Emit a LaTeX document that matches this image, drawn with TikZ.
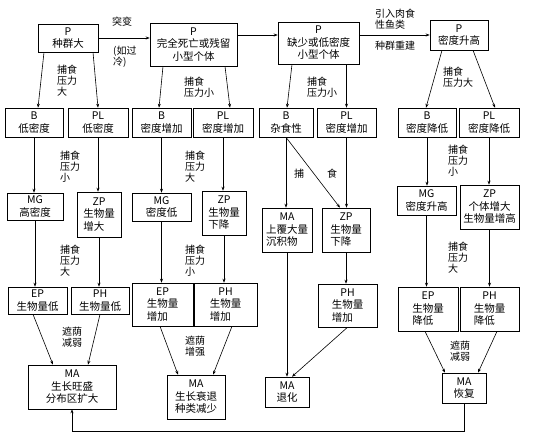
\documentclass[tikz,border=0pt]{standalone}
\usepackage{fontspec}
\newfontfamily\cjk{Noto Sans CJK SC}
\usetikzlibrary{arrows.meta,calc}
\newcommand{\lline}[2][3]{\makebox[#1em][l]{#2}}

\begin{document}
\begin{tikzpicture}[
  x=1pt, y=-1pt,
  font=\cjk\fontsize{10.5}{12.5}\selectfont,
  box/.style={draw, line width=.6pt, align=center, inner sep=1pt},
  size/.style 2 args={minimum width=#1pt, minimum height=#2pt},
  tag/.style={anchor=west, align=left, inner sep=0pt,
    font=\cjk\fontsize{10}{11}\selectfont},
  flow/.style={draw, line width=.6pt, -{Stealth[length=4pt,width=3pt]}}
]
\useasboundingbox (0,0) rectangle (534,438);

% Population states across the top
\node[box, size={60}{28}] (p1) at (68,38) {P\\种群大};
\node[box, size={87}{43}] (p2) at (193.5,44.5) {P\\完全死亡或残留\\小型个体};
\node[box, size={81}{42}] (p3) at (318.5,43) {P\\缺少或低密度\\小型个体};
\node[box, size={58}{30}] (p4) at (459,35) {P\\密度升高};

\node[tag] (mut) at (112,22) {突变};
\node[tag] (cold) at (113,57) {(如过\\冷)};
\node[tag] (stock) at (375,19) {引入肉食\\性鱼类};
\node[tag] (rebuild) at (375,46) {种群重建};

\draw[flow] (p1.east) -- (p1.east -| p2.west);
\draw[flow] (p2.east |- p4.west) -- (p3.west |- p4.west);
\draw[flow] (p3.east |- p4.west) -- (p4.west);

% B / PL row
\node[box, size={58}{29}] (b1) at (34,122.5) {B\\低密度};
\node[box, size={60}{29}] (pl1) at (98,122.5) {PL\\低密度};
\node[box, size={59}{29}] (b2) at (161.5,122.5) {B\\密度增加};
\node[box, size={60}{29}] (pl2) at (223,122.5) {PL\\密度增加};
\node[box, size={54}{29}] (b3) at (286,122.5) {B\\杂食性};
\node[box, size={59}{29}] (pl3) at (346.5,122.5) {PL\\密度增加};
\node[box, size={58}{29}] (b4) at (427,122.5) {B\\密度降低};
\node[box, size={60}{29}] (pl4) at (489,122.5) {PL\\密度降低};

\node[tag] (pr-a) at (57,81) {捕食\\压力\\大};
\node[tag] (pr-b) at (184,87) {捕食\\压力小};
\node[tag] (pr-c) at (307,87) {捕食\\压力小};
\node[tag] (pr-d) at (443,77) {捕食\\压力大};

\draw[flow] ($(p1.south)+(-24,0)$) -- ($(b1.north)+(4,0)$);
\draw[flow] ($(p1.south)+(25,0)$) -- (pl1.north);
\draw[flow] ($(p2.south)+(-30.5,0)$) -- ($(b2.north)+(-2.5,0)$);
\draw[flow] ($(p2.south)+(31.5,0)$) -- ($(pl2.north)+(7,0)$);
\draw[flow] ($(p3.south)+(-26.5,0)$) -- ($(b3.north)+(1,0)$);
\draw[flow] ($(p3.south)+(28,0)$) -- (pl3.north);
\draw[flow] ($(p4.south)+(-17,0)$) -- ($(b4.north)+(-1,0)$);
\draw[flow] ($(p4.south)+(14,0)$) -- ($(pl4.north)+(6,0)$);

% MG / ZP row
\node[box, size={56}{27}] (mg1) at (35,206.5) {MG\\高密度};
\node[box, size={44}{45}] (zp1) at (99,214.5) {ZP\\生物量\\\lline{增大}};
\node[box, size={59}{28}] (mg2) at (161.5,207) {MG\\密度低};
\node[box, size={44}{44}] (zp2) at (224,213) {ZP\\生物量\\\lline{下降}};
\node[box, size={50}{44}] (ma3) at (287,230) {MA\\上覆大量\\\lline[4]{沉积物}};
\node[box, size={48}{44}] (zp3) at (346,230) {ZP\\生物量\\\lline{下降}};
\node[box, size={59}{29}] (mg4) at (426.5,200.5) {MG\\密度升高};
\node[box, size={59}{44}] (zp4) at (489.5,207) {ZP\\个体增大\\生物量增高};

\node[tag] (pr-e) at (60,167) {捕食\\压力\\小};
\node[tag] (pr-f) at (185,167) {捕食\\压力\\大};
\node[tag, anchor=center] (eat-a) at (299,174) {捕};
\node[tag, anchor=center] (eat-b) at (332,174) {食};
\node[tag] (pr-g) at (448,161) {捕食\\压力\\小};

\draw[flow] (b3.south) -- ($(zp3.north)+(-6,0)$);

% EP / PH row
\node[box, size={59}{27}] (ep1) at (37.5,300.5) {EP\\生物量低};
\node[box, size={58}{27}] (ph1) at (100,300.5) {PH\\生物量低};
\node[box, size={61}{43}] (ep2) at (162.5,304.5) {EP\\生物量\\\lline{增加}};
\node[box, size={63}{43}] (ph2) at (225.5,304.5) {PH\\生物量\\\lline{增加}};
\node[box, size={59}{43}] (ph3) at (347.5,305.5) {PH\\生物量\\\lline{增加}};
\node[box, size={60}{44}] (ep4) at (428,309) {EP\\生物量\\\lline{降低}};
\node[box, size={59}{44}] (ph4) at (489.5,309) {PH\\生物量\\\lline{降低}};

\node[tag] (pr-h) at (60,261) {捕食\\压力\\大};
\node[tag] (pr-i) at (185,261) {捕食\\压力\\小};
\node[tag] (pr-j) at (448,258) {捕食\\压力\\大};

% MA outcomes
\node[box, size={88}{44}] (ma1) at (72,387) {MA\\生长旺盛\\分布区扩大};
\node[box, size={58}{44}] (ma2) at (196,397) {MA\\生长衰退\\种类减少};
\node[box, size={44}{30}] (ma5) at (287,392) {MA\\退化};
\node[box, size={44}{30}] (ma4) at (464,388) {MA\\恢复};

\node[tag] (sh-a) at (62,337) {遮荫\\减弱};
\node[tag] (sh-b) at (185,346) {遮荫\\增强};
\node[tag] (sh-c) at (450,351) {遮荫\\减弱};

\foreach \from/\to in {b1/mg1, pl1/zp1, mg1/ep1, zp1/ph1,
  b2/mg2, pl2/zp2, mg2/ep2, zp2/ph2,
  b3/ma3, pl3/zp3, zp3/ph3, ma3/ma5,
  b4/mg4, pl4/zp4, mg4/ep4, zp4/ph4} {
  \draw[flow] (\from.south) -- (\from.south |- \to.north);
}

\draw[flow] ($(ep1.south)+(-4.5,0)$) -- ($(ma1.north)+(-19,0)$);
\draw[flow] (ph1.south) -- ($(ma1.north)+(16,0)$);
\draw[flow] ($(ep2.south)+(-2.5,0)$) -- ($(ma2.north)+(-18,0)$);
\draw[flow] ($(ph2.south)+(6.5,0)$) -- ($(ma2.north)+(17,0)$);
\draw[flow] (ph3.south) -- ($(ma5.north)+(5,0)$);
\draw[flow] ($(ep4.south)+(-3,0)$) -- ($(ma4.north)+(-19,0)$);
\draw[flow] ($(ph4.south)+(7.5,0)$) -- ($(ma4.north)+(14,0)$);

% Recovery feeds back to the first state
\draw[flow] (ma4.south) -- ++(0,28) -| (ma1.south);
\end{tikzpicture}
\end{document}
